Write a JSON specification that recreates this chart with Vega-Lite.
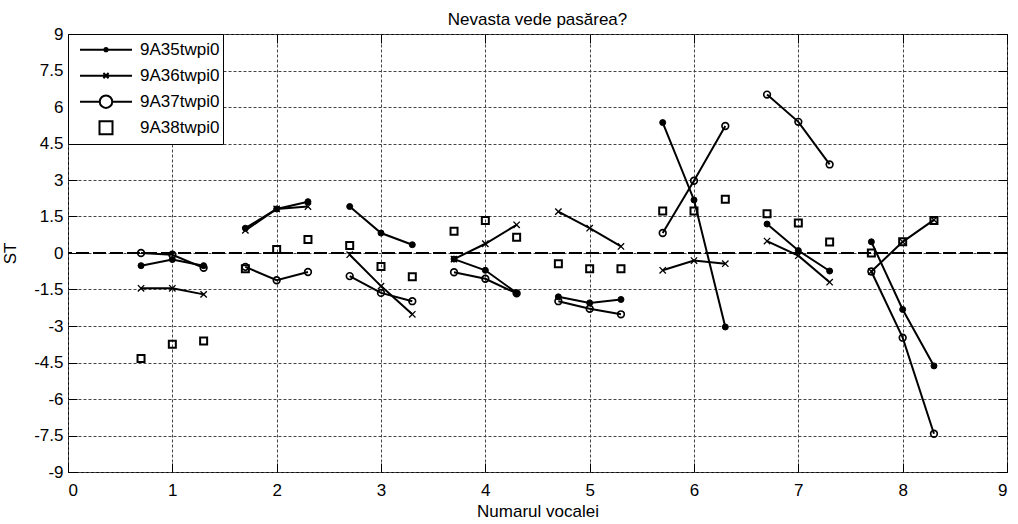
{
  "$schema": "https://vega.github.io/schema/vega-lite/v6.json",
  "width": 939,
  "height": 438,
  "autosize": {"type": "none"},
  "padding": {"left": 68, "top": 34, "right": 11, "bottom": 52},
  "background": "white",
  "title": {"text": "Nevasta vede pasărea?", "font": "Liberation Sans", "fontSize": 17, "fontWeight": "normal", "color": "black", "baseline": "alphabetic", "offset": -17, "anchor": "middle", "frame": "group"},
  "config": {
    "view": {"stroke": "black", "strokeWidth": 1},
    "axis": {
      "labelFont": "Liberation Sans", "labelFontSize": 17, "labelColor": "black",
      "titleFont": "Liberation Sans", "titleFontSize": 17, "titleFontWeight": "normal", "titleColor": "black",
      "domain": false, "tickColor": "black", "tickSize": -9, "tickWidth": 1,
      "gridDash": [3, 2], "gridColor": "#444", "gridOpacity": 1, "gridWidth": 1
    }
  },
  "data": {"values": [
    {"s": "9A35twpi0", "g": 1, "x": 0.7, "y": -0.52}, {"s": "9A35twpi0", "g": 1, "x": 1.0, "y": -0.27}, {"s": "9A35twpi0", "g": 1, "x": 1.3, "y": -0.52},
    {"s": "9A36twpi0", "g": 1, "x": 0.7, "y": -1.45}, {"s": "9A36twpi0", "g": 1, "x": 1.0, "y": -1.45}, {"s": "9A36twpi0", "g": 1, "x": 1.3, "y": -1.70},
    {"s": "9A37twpi0", "g": 1, "x": 0.7, "y": 0.0}, {"s": "9A37twpi0", "g": 1, "x": 1.0, "y": -0.07}, {"s": "9A37twpi0", "g": 1, "x": 1.3, "y": -0.61},
    {"s": "9A38twpi0", "g": 1, "x": 0.7, "y": -4.34}, {"s": "9A38twpi0", "g": 1, "x": 1.0, "y": -3.75}, {"s": "9A38twpi0", "g": 1, "x": 1.3, "y": -3.62},

    {"s": "9A35twpi0", "g": 2, "x": 1.7, "y": 1.02}, {"s": "9A35twpi0", "g": 2, "x": 2.0, "y": 1.81}, {"s": "9A35twpi0", "g": 2, "x": 2.3, "y": 2.11},
    {"s": "9A36twpi0", "g": 2, "x": 1.7, "y": 0.93}, {"s": "9A36twpi0", "g": 2, "x": 2.0, "y": 1.81}, {"s": "9A36twpi0", "g": 2, "x": 2.3, "y": 1.91},
    {"s": "9A37twpi0", "g": 2, "x": 1.7, "y": -0.57}, {"s": "9A37twpi0", "g": 2, "x": 2.0, "y": -1.12}, {"s": "9A37twpi0", "g": 2, "x": 2.3, "y": -0.78},
    {"s": "9A38twpi0", "g": 2, "x": 1.7, "y": -0.65}, {"s": "9A38twpi0", "g": 2, "x": 2.0, "y": 0.14}, {"s": "9A38twpi0", "g": 2, "x": 2.3, "y": 0.55},

    {"s": "9A35twpi0", "g": 3, "x": 2.7, "y": 1.91}, {"s": "9A35twpi0", "g": 3, "x": 3.0, "y": 0.82}, {"s": "9A35twpi0", "g": 3, "x": 3.3, "y": 0.34},
    {"s": "9A36twpi0", "g": 3, "x": 2.7, "y": -0.07}, {"s": "9A36twpi0", "g": 3, "x": 3.0, "y": -1.36}, {"s": "9A36twpi0", "g": 3, "x": 3.3, "y": -2.52},
    {"s": "9A37twpi0", "g": 3, "x": 2.7, "y": -0.95}, {"s": "9A37twpi0", "g": 3, "x": 3.0, "y": -1.64}, {"s": "9A37twpi0", "g": 3, "x": 3.3, "y": -1.98},
    {"s": "9A38twpi0", "g": 3, "x": 2.7, "y": 0.31}, {"s": "9A38twpi0", "g": 3, "x": 3.0, "y": -0.55}, {"s": "9A38twpi0", "g": 3, "x": 3.3, "y": -0.98},

    {"s": "9A35twpi0", "g": 4, "x": 3.7, "y": -0.25}, {"s": "9A35twpi0", "g": 4, "x": 4.0, "y": -0.71}, {"s": "9A35twpi0", "g": 4, "x": 4.3, "y": -1.64},
    {"s": "9A36twpi0", "g": 4, "x": 3.7, "y": -0.25}, {"s": "9A36twpi0", "g": 4, "x": 4.0, "y": 0.38}, {"s": "9A36twpi0", "g": 4, "x": 4.3, "y": 1.16},
    {"s": "9A37twpi0", "g": 4, "x": 3.7, "y": -0.79}, {"s": "9A37twpi0", "g": 4, "x": 4.0, "y": -1.06}, {"s": "9A37twpi0", "g": 4, "x": 4.3, "y": -1.66},
    {"s": "9A38twpi0", "g": 4, "x": 3.7, "y": 0.89}, {"s": "9A38twpi0", "g": 4, "x": 4.0, "y": 1.34}, {"s": "9A38twpi0", "g": 4, "x": 4.3, "y": 0.65},

    {"s": "9A35twpi0", "g": 5, "x": 4.7, "y": -1.80}, {"s": "9A35twpi0", "g": 5, "x": 5.0, "y": -2.05}, {"s": "9A35twpi0", "g": 5, "x": 5.3, "y": -1.91},
    {"s": "9A36twpi0", "g": 5, "x": 4.7, "y": 1.70}, {"s": "9A36twpi0", "g": 5, "x": 5.0, "y": 1.02}, {"s": "9A36twpi0", "g": 5, "x": 5.3, "y": 0.27},
    {"s": "9A37twpi0", "g": 5, "x": 4.7, "y": -1.98}, {"s": "9A37twpi0", "g": 5, "x": 5.0, "y": -2.29}, {"s": "9A37twpi0", "g": 5, "x": 5.3, "y": -2.52},
    {"s": "9A38twpi0", "g": 5, "x": 4.7, "y": -0.44}, {"s": "9A38twpi0", "g": 5, "x": 5.0, "y": -0.65}, {"s": "9A38twpi0", "g": 5, "x": 5.3, "y": -0.65},

    {"s": "9A35twpi0", "g": 6, "x": 5.7, "y": 5.36}, {"s": "9A35twpi0", "g": 6, "x": 6.0, "y": 2.18}, {"s": "9A35twpi0", "g": 6, "x": 6.3, "y": -3.04},
    {"s": "9A36twpi0", "g": 6, "x": 5.7, "y": -0.71}, {"s": "9A36twpi0", "g": 6, "x": 6.0, "y": -0.31}, {"s": "9A36twpi0", "g": 6, "x": 6.3, "y": -0.44},
    {"s": "9A37twpi0", "g": 6, "x": 5.7, "y": 0.82}, {"s": "9A37twpi0", "g": 6, "x": 6.0, "y": 2.97}, {"s": "9A37twpi0", "g": 6, "x": 6.3, "y": 5.22},
    {"s": "9A38twpi0", "g": 6, "x": 5.7, "y": 1.73}, {"s": "9A38twpi0", "g": 6, "x": 6.0, "y": 1.73}, {"s": "9A38twpi0", "g": 6, "x": 6.3, "y": 2.21},

    {"s": "9A35twpi0", "g": 7, "x": 6.7, "y": 1.19}, {"s": "9A35twpi0", "g": 7, "x": 7.0, "y": 0.10}, {"s": "9A35twpi0", "g": 7, "x": 7.3, "y": -0.74},
    {"s": "9A36twpi0", "g": 7, "x": 6.7, "y": 0.49}, {"s": "9A36twpi0", "g": 7, "x": 7.0, "y": -0.11}, {"s": "9A36twpi0", "g": 7, "x": 7.3, "y": -1.20},
    {"s": "9A37twpi0", "g": 7, "x": 6.7, "y": 6.51}, {"s": "9A37twpi0", "g": 7, "x": 7.0, "y": 5.39}, {"s": "9A37twpi0", "g": 7, "x": 7.3, "y": 3.64},
    {"s": "9A38twpi0", "g": 7, "x": 6.7, "y": 1.61}, {"s": "9A38twpi0", "g": 7, "x": 7.0, "y": 1.23}, {"s": "9A38twpi0", "g": 7, "x": 7.3, "y": 0.45},

    {"s": "9A35twpi0", "g": 8, "x": 7.7, "y": 0.46}, {"s": "9A35twpi0", "g": 8, "x": 8.0, "y": -2.32}, {"s": "9A35twpi0", "g": 8, "x": 8.3, "y": -4.64},
    {"s": "9A36twpi0", "g": 8, "x": 7.7, "y": -0.76}, {"s": "9A36twpi0", "g": 8, "x": 8.0, "y": 0.46}, {"s": "9A36twpi0", "g": 8, "x": 8.3, "y": 1.36},
    {"s": "9A37twpi0", "g": 8, "x": 7.7, "y": -0.76}, {"s": "9A37twpi0", "g": 8, "x": 8.0, "y": -3.48}, {"s": "9A37twpi0", "g": 8, "x": 8.3, "y": -7.43},
    {"s": "9A38twpi0", "g": 8, "x": 7.7, "y": 0.0}, {"s": "9A38twpi0", "g": 8, "x": 8.0, "y": 0.46}, {"s": "9A38twpi0", "g": 8, "x": 8.3, "y": 1.34}
  ]},
  "layer": [
    {
      "mark": {"type": "rule", "color": "black", "strokeWidth": 1, "strokeDash": [13, 4]},
      "encoding": {
        "y": {"datum": 0, "type": "quantitative", "scale": {"domain": [-9, 9], "nice": false}, "axis": null}
      }
    },
    {
      "transform": [{"filter": "datum.s != '9A38twpi0'"}],
      "mark": {"type": "line", "color": "black", "strokeWidth": 2},
      "encoding": {
        "x": {"field": "x", "type": "quantitative", "scale": {"domain": [0, 9], "nice": false}, "axis": null},
        "y": {"field": "y", "type": "quantitative", "scale": {"domain": [-9, 9], "nice": false}, "axis": null},
        "detail": [{"field": "s", "type": "nominal"}, {"field": "g", "type": "nominal"}]
      }
    },
    {
      "mark": {"type": "point", "stroke": "black", "opacity": 1},
      "encoding": {
        "x": {"field": "x", "type": "quantitative", "scale": {"domain": [0, 9], "nice": false},
              "axis": {"orient": "bottom", "values": [0, 1, 2, 3, 4, 5, 6, 7, 8, 9], "grid": true, "labelPadding": 19, "title": "Numarul vocalei", "titlePadding": 5}},
        "y": {"field": "y", "type": "quantitative", "scale": {"domain": [-9, 9], "nice": false},
              "axis": {"orient": "left", "values": [-9, -7.5, -6, -4.5, -3, -1.5, 0, 1.5, 3, 4.5, 6, 7.5, 9], "grid": true, "labelPadding": 14, "labelExpr": "'' + datum.value", "title": "ST", "titlePadding": 14}},
        "shape": {"field": "s", "type": "nominal", "scale": {"domain": ["9A35twpi0", "9A36twpi0", "9A37twpi0", "9A38twpi0"], "range": ["circle", "M-1,-1L1,1M-1,1L1,-1", "circle", "square"]}, "legend": null},
        "fill": {"field": "s", "type": "nominal", "scale": {"domain": ["9A35twpi0", "9A36twpi0", "9A37twpi0", "9A38twpi0"], "range": ["black", "transparent", "transparent", "transparent"]}, "legend": null},
        "size": {"field": "s", "type": "nominal", "scale": {"domain": ["9A35twpi0", "9A36twpi0", "9A37twpi0", "9A38twpi0"], "range": [36, 49, 210, 200]}, "legend": null},
        "strokeWidth": {"field": "s", "type": "nominal", "scale": {"domain": ["9A35twpi0", "9A36twpi0", "9A37twpi0", "9A38twpi0"], "range": [1, 2, 2.2, 2.6]}, "legend": null}
      }
    },
    {
      "transform": [{"filter": "false"}],
      "mark": {"type": "point", "filled": false, "stroke": "black", "strokeWidth": 2, "opacity": 1},
      "encoding": {
        "x": {"field": "x", "type": "quantitative", "scale": {"domain": [0, 9], "nice": false},
              "axis": {"orient": "top", "values": [0, 1, 2, 3, 4, 5, 6, 7, 8, 9], "labels": false, "grid": false, "title": null}},
        "y": {"field": "y", "type": "quantitative", "scale": {"domain": [-9, 9], "nice": false},
              "axis": {"orient": "right", "values": [-9, -7.5, -6, -4.5, -3, -1.5, 0, 1.5, 3, 4.5, 6, 7.5, 9], "labels": false, "grid": false, "title": null}},
        "shape": {"field": "s", "type": "nominal",
          "scale": {"domain": ["9A35twpi0", "9A36twpi0", "9A37twpi0", "9A38twpi0"],
                    "range": ["M-1,0H1M-0.06,0A0.06,0.06 0 1,0 0.06,0A0.06,0.06 0 1,0 -0.06,0",
                              "M-1,0H1M-0.1,-0.1L0.1,0.1M-0.1,0.1L0.1,-0.1",
                              "M-1,0H-0.24M0.24,0H1M-0.24,0A0.24,0.24 0 1,0 0.24,0A0.24,0.24 0 1,0 -0.24,0",
                              "M-0.25,-0.25H0.25V0.25H-0.25Z"]},
          "legend": {"title": null, "orient": "top-left", "offset": 0, "padding": 3,
                     "strokeColor": "black", "fillColor": "white",
                     "symbolSize": 2704, "clipHeight": 25.3, "rowPadding": 0,
                     "symbolOffset": 8, "labelOffset": 7,
                     "labelFont": "Liberation Sans", "labelFontSize": 17, "labelColor": "black",
                     "symbolStrokeWidth": 2, "symbolStrokeColor": "black", "symbolFillColor": "transparent", "symbolOpacity": 1}}
      }
    }
  ],
  "resolve": {
    "scale": {"shape": "independent", "size": "independent", "fill": "independent", "strokeWidth": "independent"},
    "axis": {"x": "independent", "y": "independent"}
  }
}
